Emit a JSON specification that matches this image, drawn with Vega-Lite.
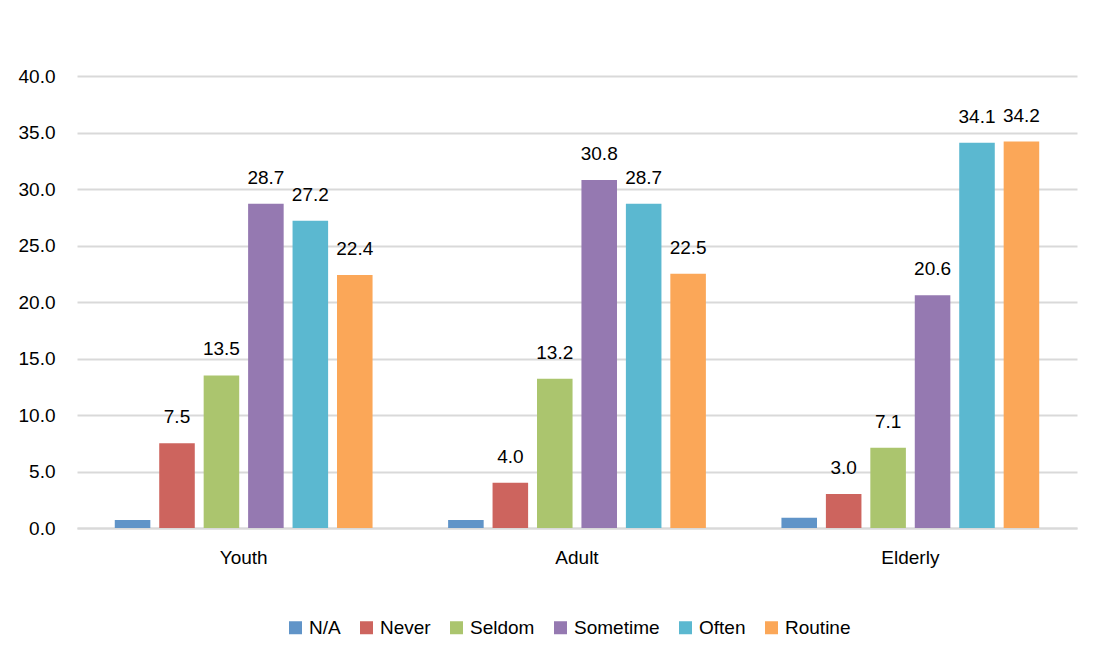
{
  "$schema": "https://vega.github.io/schema/vega-lite/v6.json",
  "autosize": {"type": "none"},
  "width": 1000,
  "height": 452,
  "padding": {"left": 77, "top": 76, "right": 31, "bottom": 136},
  "background": "white",
  "config": {
    "font": "Liberation Sans",
    "view": {"stroke": null},
    "axis": {"labelFont": "Liberation Sans", "labelColor": "#000000", "labelFontSize": 19},
    "legend": {"labelFont": "Liberation Sans", "labelColor": "#000000", "labelFontSize": 19}
  },
  "data": {
    "values": [
      {"group": "Youth", "freq": "N/A", "pct": 0.7},
      {"group": "Youth", "freq": "Never", "pct": 7.5},
      {"group": "Youth", "freq": "Seldom", "pct": 13.5},
      {"group": "Youth", "freq": "Sometime", "pct": 28.7},
      {"group": "Youth", "freq": "Often", "pct": 27.2},
      {"group": "Youth", "freq": "Routine", "pct": 22.4},
      {"group": "Adult", "freq": "N/A", "pct": 0.7},
      {"group": "Adult", "freq": "Never", "pct": 4.0},
      {"group": "Adult", "freq": "Seldom", "pct": 13.2},
      {"group": "Adult", "freq": "Sometime", "pct": 30.8},
      {"group": "Adult", "freq": "Often", "pct": 28.7},
      {"group": "Adult", "freq": "Routine", "pct": 22.5},
      {"group": "Elderly", "freq": "N/A", "pct": 0.9},
      {"group": "Elderly", "freq": "Never", "pct": 3.0},
      {"group": "Elderly", "freq": "Seldom", "pct": 7.1},
      {"group": "Elderly", "freq": "Sometime", "pct": 20.6},
      {"group": "Elderly", "freq": "Often", "pct": 34.1},
      {"group": "Elderly", "freq": "Routine", "pct": 34.2}
    ]
  },
  "encoding": {
    "x": {
      "field": "group",
      "type": "nominal",
      "sort": ["Youth", "Adult", "Elderly"],
      "scale": {"paddingInner": 0, "paddingOuter": 0},
      "axis": {
        "title": null,
        "labelAngle": 0,
        "ticks": false,
        "domain": true,
        "domainColor": "#d9d9d9",
        "domainWidth": 2,
        "labelPadding": 20
      }
    },
    "xOffset": {
      "field": "freq",
      "type": "nominal",
      "sort": ["N/A", "Never", "Seldom", "Sometime", "Often", "Routine"],
      "scale": {"paddingInner": 0.2, "paddingOuter": 0.85}
    },
    "y": {
      "field": "pct",
      "type": "quantitative",
      "scale": {"domain": [0, 40], "nice": false},
      "axis": {
        "title": null,
        "values": [0, 5, 10, 15, 20, 25, 30, 35, 40],
        "format": ".1f",
        "domain": false,
        "ticks": false,
        "labelPadding": 22,
        "gridColor": "#d9d9d9",
        "gridWidth": 2
      }
    }
  },
  "layer": [
    {
      "mark": {"type": "bar"},
      "encoding": {
        "color": {
          "field": "freq",
          "type": "nominal",
          "sort": ["N/A", "Never", "Seldom", "Sometime", "Often", "Routine"],
          "scale": {
            "domain": ["N/A", "Never", "Seldom", "Sometime", "Often", "Routine"],
            "range": ["#6094c8", "#cd645e", "#abc56e", "#9579b1", "#5bb8d0", "#fba758"]
          },
          "legend": {
            "title": null,
            "orient": "none",
            "legendX": 209,
            "legendY": 542,
            "direction": "horizontal",
            "symbolType": "square",
            "symbolSize": 169,
            "symbolStrokeWidth": 0,
            "labelOffset": 4,
            "columnPadding": 16
          }
        }
      }
    },
    {
      "transform": [{"filter": "datum.freq !== 'N/A'"}],
      "mark": {"type": "text", "baseline": "alphabetic", "dy": -20, "fontSize": 19, "color": "#000000"},
      "encoding": {
        "text": {"field": "pct", "type": "quantitative", "format": ".1f"}
      }
    }
  ]
}
